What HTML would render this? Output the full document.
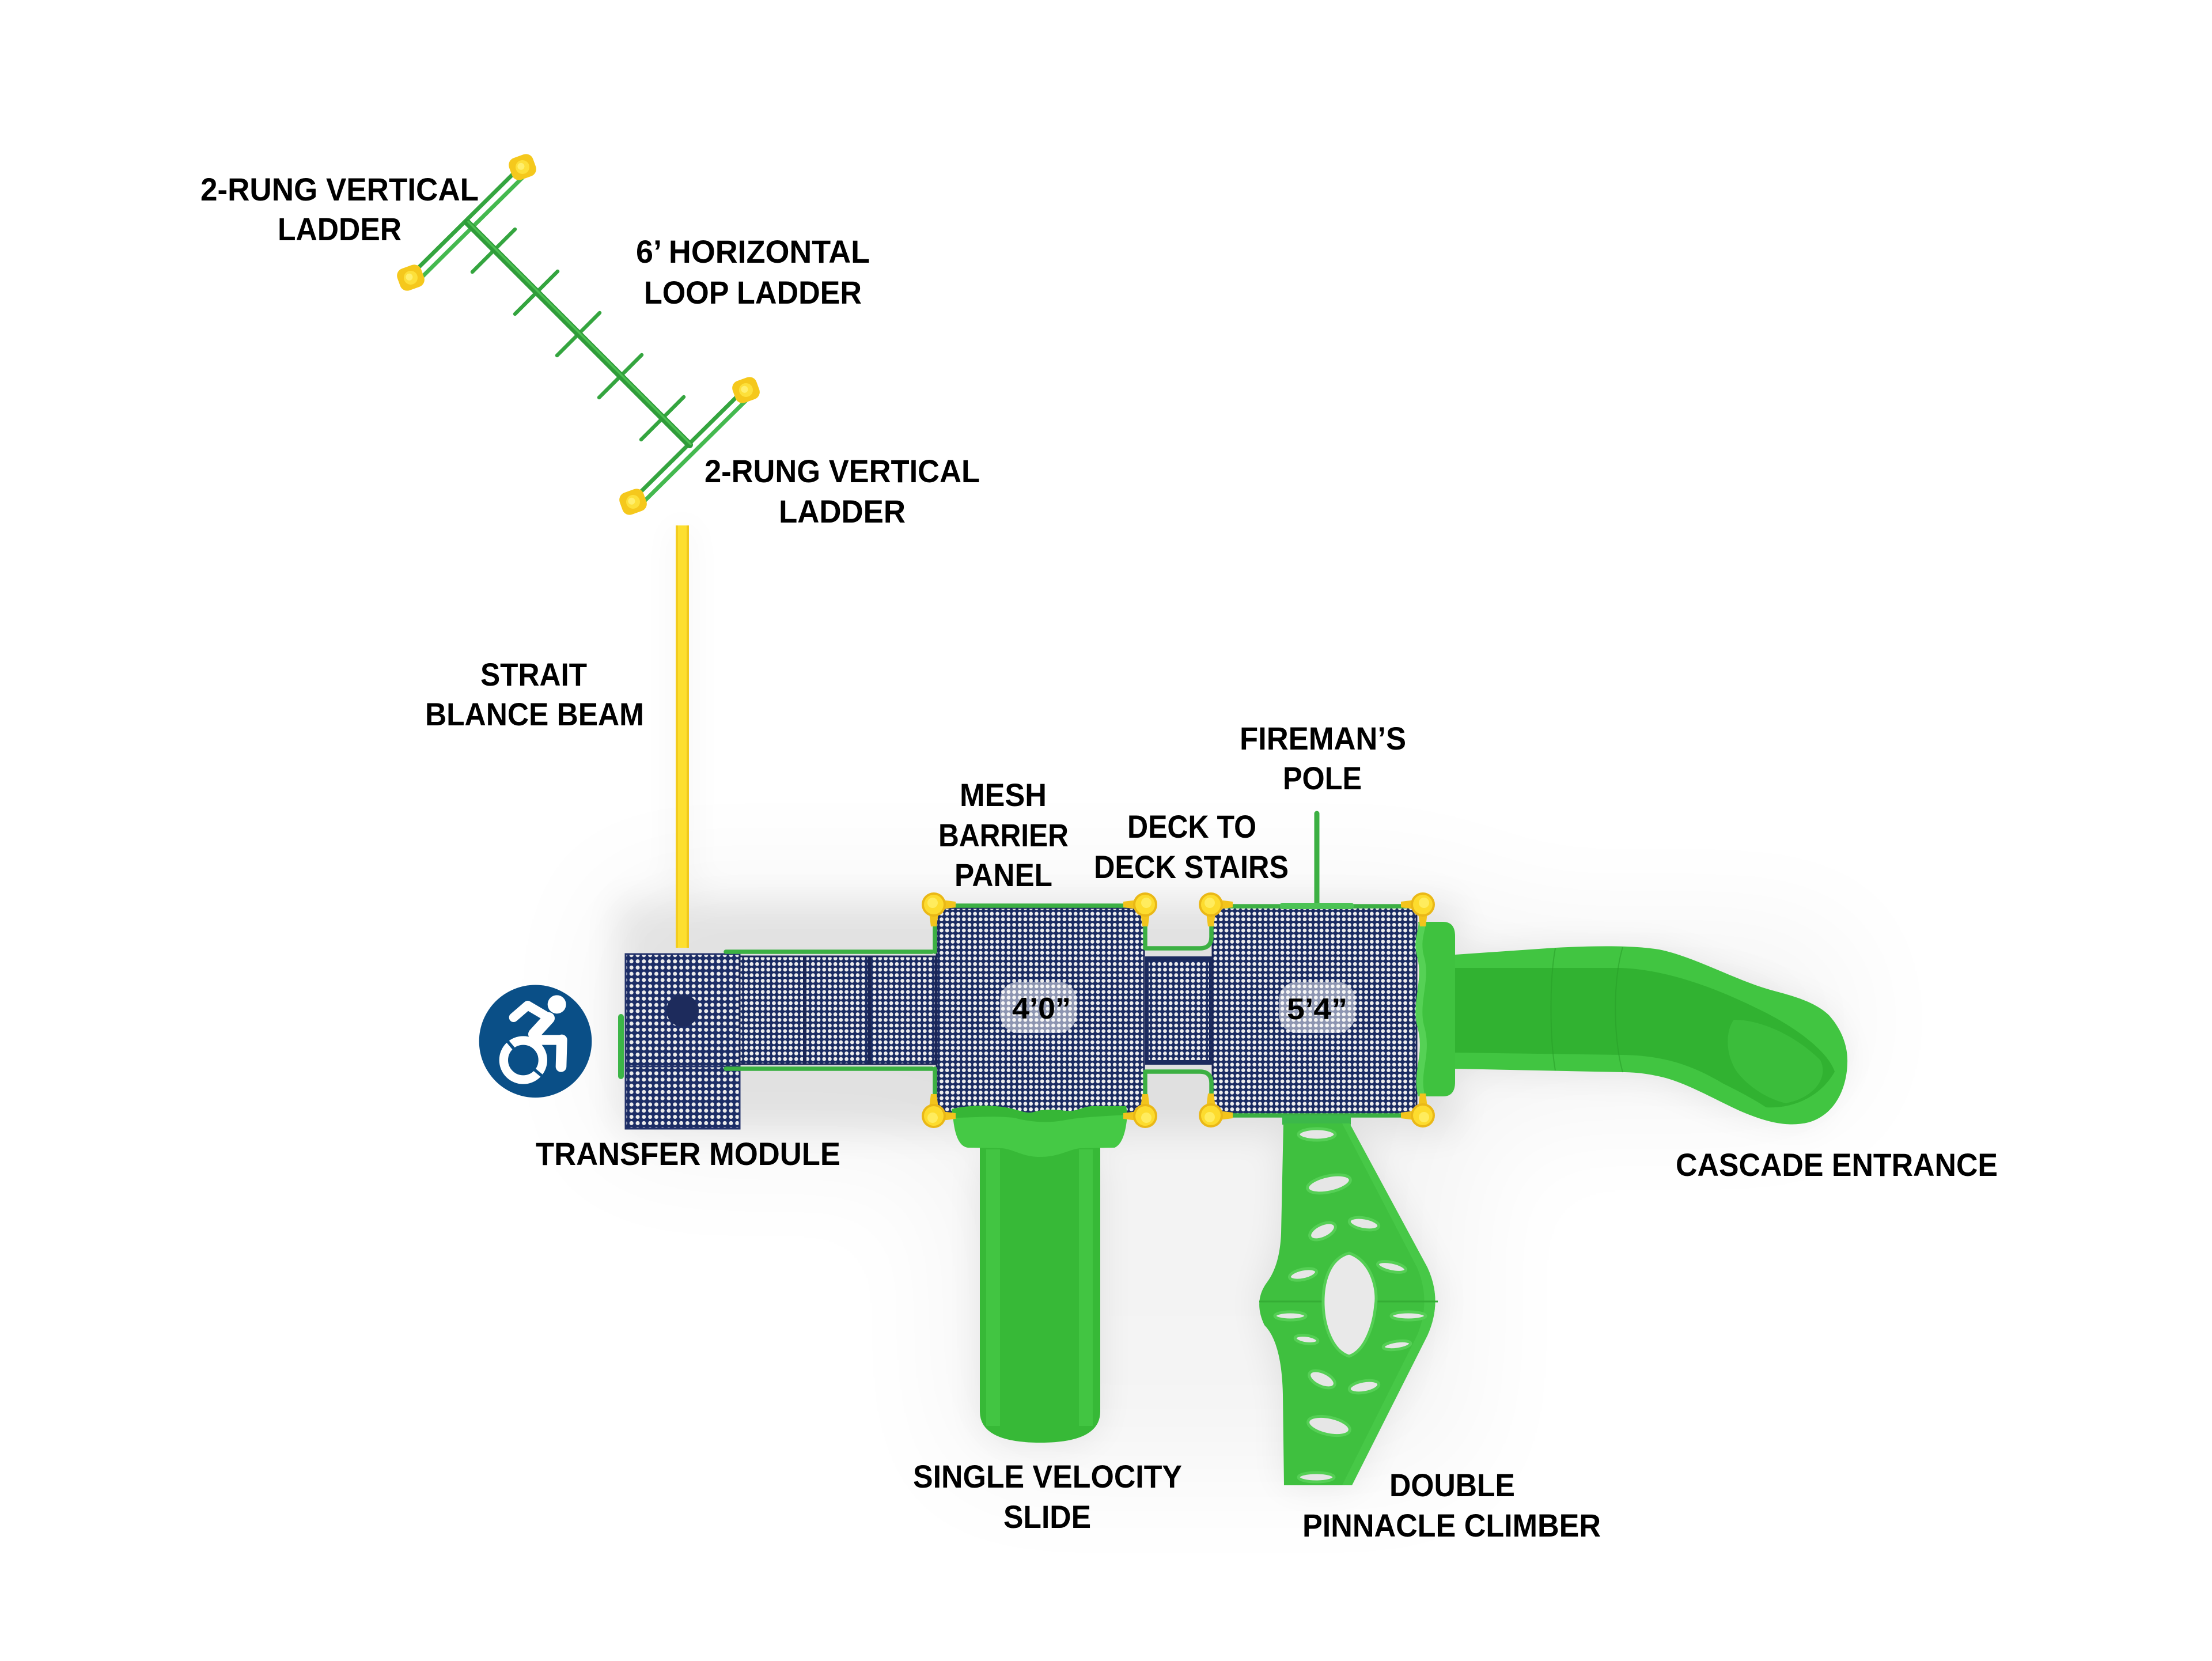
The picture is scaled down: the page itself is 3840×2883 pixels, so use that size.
<!DOCTYPE html>
<html><head><meta charset="utf-8"><style>html,body{margin:0;padding:0;background:#fff}svg{display:block}</style></head>
<body>
<svg width="3840" height="2883" viewBox="0 0 3840 2883" xmlns="http://www.w3.org/2000/svg">
<defs>
  <pattern id="mesh" width="9.7" height="9.7" patternUnits="userSpaceOnUse">
    <rect width="9.7" height="9.7" fill="#1a2b62"/>
    <circle cx="4.85" cy="4.85" r="3.35" fill="#eeeeee"/>
  </pattern>
  <pattern id="mesh2" width="10.8" height="10.8" patternUnits="userSpaceOnUse">
    <rect width="10.8" height="10.8" fill="#1c2d66"/>
    <circle cx="5.4" cy="5.4" r="3.5" fill="#ececec"/>
  </pattern>
  <filter id="sh" x="-30%" y="-30%" width="160%" height="160%"><feGaussianBlur stdDeviation="30"/></filter>
  <filter id="sh2" x="-50%" y="-50%" width="200%" height="200%"><feGaussianBlur stdDeviation="110"/></filter>
  <g id="post">
    <path d="M14,-8 L38,-5 L38,5 L14,8 Z" fill="#f2c41c"/>
    <path d="M-8,14 L-5,38 L5,38 L8,14 Z" fill="#f2c41c"/>
    <circle r="21" fill="#eab817"/>
    <circle r="17" fill="#fddc2e"/>
    <circle cx="-2" cy="-3" r="9" fill="#fff06a" opacity="0.8"/>
  </g>
  <g id="cap">
    <rect x="-22" y="-20" width="44" height="40" rx="13" fill="#f5c81c"/>
    <circle r="12" fill="#fde03a"/>
    <circle cx="-2" cy="-2" r="6" fill="#fff27a" opacity="0.8"/>
  </g>
</defs>

<rect width="3840" height="2883" fill="#ffffff"/>

<!-- soft shadows -->
<g opacity="0.045" filter="url(#sh2)">
  <rect x="1050" y="1540" width="1500" height="460" fill="#000"/>
  <rect x="1660" y="1950" width="880" height="600" fill="#000"/>
  <rect x="2500" y="1620" width="700" height="300" fill="#000"/>
</g>
<g opacity="0.08" filter="url(#sh)">
  <rect x="1070" y="1565" width="1460" height="400" fill="#000"/>
  <path d="M2526,1657 L2700,1645 L2880,1648 L3073,1718 L3175,1762 L3207,1845 L3140,1948 L3020,1928 L2874,1867 L2526,1855 Z" fill="#000"/>
  <rect x="1699" y="1990" width="212" height="515" rx="60" fill="#000"/>
  <path d="M2228,1950 L2343,1950 L2478,2200 L2502,2260 L2478,2318 L2347,2578 L2229,2578 L2227,2420 L2185,2260 L2224,2140 Z" fill="#000"/>
  <rect x="1170" y="912" width="29" height="735" fill="#000" opacity="0.6"/>
</g>

<!-- balance beam -->
<rect x="1173" y="912" width="23" height="733" fill="#fddf2f"/>
<rect x="1173" y="912" width="4" height="733" fill="#f3cc1e"/>
<rect x="1192" y="912" width="4" height="733" fill="#f0c81c"/>

<!-- ladders -->
<g stroke-linecap="round" fill="none">
  <line x1="904.9" y1="287.9" x2="710.9" y2="479.9" stroke="#34a53f" stroke-width="7"/>
  <line x1="916.1" y1="299.2" x2="722.1" y2="491.2" stroke="#44b94f" stroke-width="7"/>
  <line x1="1292.9" y1="674.9" x2="1096.9" y2="868.9" stroke="#34a53f" stroke-width="7"/>
  <line x1="1304.1" y1="686.2" x2="1108.1" y2="880.2" stroke="#44b94f" stroke-width="7"/>
  <g stroke="#34a53f" stroke-width="6.5">
    <line x1="894" y1="398" x2="820" y2="472"/>
    <line x1="968" y1="471" x2="894" y2="545"/>
    <line x1="1041" y1="543" x2="967" y2="617"/>
    <line x1="1114" y1="616" x2="1040" y2="690"/>
    <line x1="1187" y1="689" x2="1113" y2="763"/>
  </g>
  <line x1="811" y1="386" x2="1197" y2="772" stroke="#2f9c39" stroke-width="12"/>
  <line x1="813" y1="385" x2="1199" y2="771" stroke="#4cbf52" stroke-width="3.5"/>
</g>
<use href="#cap" transform="translate(907,290) rotate(-20)"/>
<use href="#cap" transform="translate(713,482) rotate(-20)"/>
<use href="#cap" transform="translate(1295,677) rotate(-20)"/>
<use href="#cap" transform="translate(1099,871) rotate(-20)"/>

<!-- wheelchair icon -->
<circle cx="929.5" cy="1807.3" r="97.8" fill="#0a4f87"/>
<g transform="translate(820,1690) scale(0.33333)" fill="none" stroke="#fff" stroke-linecap="round" stroke-linejoin="round">
  <circle cx="440" cy="160" r="48" fill="#fff" stroke="none"/>
  <path d="M215,228 L288,165 L395,228" stroke-width="48"/>
  <path d="M398,232 L322,315" stroke-width="62"/>
  <path d="M300,345 L468,345" stroke-width="52" stroke-linecap="butt"/>
  <path d="M466,345 L462,484" stroke-width="56"/>
  <circle cx="265" cy="450" r="102" stroke-width="46"/>
  <line x1="220" y1="396" x2="178" y2="346" stroke="#0a4f87" stroke-width="16" stroke-linecap="butt"/>
  <line x1="320" y1="497" x2="368" y2="537" stroke="#0a4f87" stroke-width="16" stroke-linecap="butt"/>
</g>

<!-- transfer module -->
<rect x="1073" y="1760" width="10" height="113" rx="5" fill="#3cb547"/>
<rect x="1086" y="1656" width="198" height="195" fill="url(#mesh2)" stroke="#22316a" stroke-width="3"/>
<rect x="1086" y="1851" width="198" height="108" fill="url(#mesh2)" stroke="#22316a" stroke-width="3"/>
<circle cx="1185" cy="1754" r="28" fill="#1d2b5c"/>

<!-- bridge -->
<rect x="1284" y="1660" width="340" height="187" fill="url(#mesh)" stroke="#1b2758" stroke-width="3"/>
<line x1="1397" y1="1660" x2="1397" y2="1847" stroke="#1a2656" stroke-width="6"/>
<line x1="1509" y1="1660" x2="1509" y2="1847" stroke="#1a2656" stroke-width="6"/>

<!-- stairs -->
<rect x="1988" y="1660" width="117" height="188" fill="#1c2b5e"/>
<rect x="1994" y="1668" width="105" height="172" fill="url(#mesh)"/>

<!-- decks -->
<rect x="1626" y="1576" width="360" height="357" rx="10" fill="url(#mesh)" stroke="#1a2658" stroke-width="3"/>
<rect x="2105" y="1574" width="354" height="362" rx="10" fill="url(#mesh)" stroke="#1a2658" stroke-width="3"/>

<!-- green rails -->
<g stroke="#3cb043" stroke-width="7.5" fill="none" stroke-linecap="round" stroke-linejoin="round">
  <line x1="1260" y1="1652" x2="1618" y2="1652"/>
  <line x1="1260" y1="1855" x2="1618" y2="1855"/>
  <line x1="1640" y1="1572" x2="1968" y2="1572"/>
  <line x1="1623" y1="1592" x2="1623" y2="1652"/>
  <line x1="1623" y1="1855" x2="1623" y2="1916"/>
  <path d="M1988,1592 L1988,1646 L2083,1646 Q2103,1646 2103,1626 L2103,1592"/>
  <path d="M1988,1918 L1988,1860 L2083,1860 Q2103,1860 2103,1880 L2103,1918"/>
  <line x1="2122" y1="1573" x2="2450" y2="1573"/>
  <line x1="2122" y1="1936" x2="2450" y2="1936"/>
  <line x1="2286" y1="1412" x2="2286" y2="1572" stroke-width="9"/>
</g>
<rect x="2222" y="1567" width="128" height="11" rx="4" fill="#4cc355"/>

<!-- cascade slide -->
<path d="M2526,1657 L2700,1645 C2760,1642 2830,1640 2880,1648 C2940,1660 3010,1700 3073,1718 C3110,1728 3150,1738 3175,1762 C3200,1790 3208,1820 3207,1845 C3206,1890 3185,1935 3140,1948 C3100,1958 3060,1945 3020,1928 C2970,1905 2920,1875 2874,1867 C2850,1862 2830,1861 2817,1861 L2526,1855 Z" fill="#41c541"/>
<path d="M2526,1680 L2813,1680 C2900,1683 2990,1720 3060,1755 C3130,1790 3175,1830 3185,1860 C3160,1905 3110,1925 3066,1922 C3040,1905 3010,1890 2990,1880 C2940,1850 2890,1832 2817,1831 L2526,1827 Z" fill="#31b231"/>
<path d="M3010,1770 C3060,1770 3120,1800 3160,1840 C3175,1870 3150,1905 3100,1915 C3060,1905 3030,1880 3015,1860 C2995,1830 2995,1790 3010,1770 Z" fill="#3fbf3f" opacity="0.8"/>
<g stroke="#2aa02a" stroke-width="2" fill="none" opacity="0.6">
  <path d="M2700,1646 C2690,1700 2690,1800 2700,1858"/>
  <path d="M2817,1644 C2800,1700 2800,1800 2817,1861"/>
</g>
<!-- cascade hood -->
<path d="M2462,1600 L2505,1600 Q2526,1600 2526,1625 L2526,1878 Q2526,1903 2505,1903 L2462,1903 C2450,1860 2475,1830 2460,1780 C2450,1740 2472,1700 2460,1660 C2452,1630 2465,1612 2462,1600 Z" fill="#3fc23f"/>
<path d="M2462,1600 C2465,1612 2452,1630 2460,1660 C2472,1700 2450,1740 2460,1780 C2475,1830 2450,1860 2462,1903 L2474,1903 C2462,1860 2487,1830 2472,1780 C2462,1740 2484,1700 2472,1660 C2464,1630 2477,1612 2474,1600 Z" fill="#55d155"/>

<!-- single velocity slide -->
<path d="M1701,1990 L1701,2450 Q1701,2504 1806,2504 Q1910,2504 1910,2450 L1910,1990 Z" fill="#37b937"/>
<rect x="1712" y="1995" width="24" height="480" fill="#45c845" opacity="0.8"/>
<rect x="1873" y="1995" width="24" height="480" fill="#45c845" opacity="0.8"/>
<path d="M1652,1925 C1680,1918 1720,1918 1745,1922 C1770,1926 1780,1934 1795,1930 C1815,1924 1830,1926 1850,1928 C1870,1930 1875,1922 1895,1920 L1955,1920 L1957,1935 C1955,1960 1950,1985 1935,1992 L1875,1993 C1855,1995 1840,2008 1805,2008 C1775,2008 1760,1995 1740,1993 L1680,1992 C1665,1990 1658,1970 1655,1945 Z" fill="#45c945"/>
<path d="M1652,1925 C1680,1918 1720,1918 1745,1922 C1770,1926 1780,1934 1795,1930 C1815,1924 1830,1926 1850,1928 C1870,1930 1875,1922 1895,1920 L1955,1920 L1957,1935 C1900,1938 1870,1940 1850,1944 C1820,1950 1790,1948 1760,1940 C1720,1936 1690,1940 1655,1940 Z" fill="#36b636"/>

<!-- climber -->
<rect x="2226" y="1936" width="119" height="16" fill="#3cb84a"/>
<path d="M2228,1950 L2343,1950 L2478,2200 Q2505,2258 2478,2318 L2347,2578 L2229,2578 L2227,2420 Q2225,2330 2195,2300 Q2175,2258 2200,2225 Q2222,2195 2224,2140 L2228,1950 Z" fill="#3fc03f"/>
<path d="M2343,1950 L2478,2200 Q2505,2258 2478,2318 L2347,2578 L2330,2578 L2460,2318 Q2485,2258 2460,2200 L2330,1950 Z" fill="#4ccc4c" opacity="0.7"/>
<line x1="2186" y1="2259" x2="2496" y2="2259" stroke="#35ad35" stroke-width="3"/>
<g fill="#e6e6e6" stroke="#55cf55" stroke-width="5">
  <ellipse cx="2286" cy="1969" rx="32" ry="10"/>
  <ellipse cx="2307" cy="2055" rx="38" ry="14" transform="rotate(-12 2307 2055)"/>
  <ellipse cx="2296" cy="2137" rx="24" ry="12" transform="rotate(-25 2296 2137)"/>
  <ellipse cx="2368" cy="2124" rx="26" ry="10" transform="rotate(10 2368 2124)"/>
  <ellipse cx="2262" cy="2212" rx="24" ry="9" transform="rotate(-12 2262 2212)"/>
  <ellipse cx="2416" cy="2199" rx="25" ry="8" transform="rotate(12 2416 2199)"/>
  <ellipse cx="2240" cy="2284" rx="27" ry="7"/>
  <ellipse cx="2445" cy="2284" rx="30" ry="7"/>
  <ellipse cx="2268" cy="2325" rx="20" ry="7" transform="rotate(8 2268 2325)"/>
  <ellipse cx="2425" cy="2335" rx="24" ry="7" transform="rotate(-8 2425 2335)"/>
  <ellipse cx="2295" cy="2394" rx="24" ry="12" transform="rotate(25 2295 2394)"/>
  <ellipse cx="2368" cy="2407" rx="26" ry="10" transform="rotate(-10 2368 2407)"/>
  <ellipse cx="2307" cy="2475" rx="37" ry="15" transform="rotate(12 2307 2475)"/>
  <ellipse cx="2285" cy="2564" rx="31" ry="8"/>
  <path d="M2342,2175 C2385,2190 2392,2245 2388,2265 C2385,2300 2370,2345 2342,2354 C2312,2345 2298,2300 2297,2265 C2296,2230 2305,2185 2342,2175 Z" fill="#e9e9e9"/>
</g>

<!-- posts -->
<use href="#post" transform="translate(1621,1570)"/>
<use href="#post" transform="translate(1988,1570) scale(-1,1)"/>
<use href="#post" transform="translate(1621,1937) scale(1,-1)"/>
<use href="#post" transform="translate(1988,1937) scale(-1,-1)"/>
<use href="#post" transform="translate(2102,1570)"/>
<use href="#post" transform="translate(2470,1570) scale(-1,1)"/>
<use href="#post" transform="translate(2102,1936) scale(1,-1)"/>
<use href="#post" transform="translate(2470,1936) scale(-1,-1)"/>

<!-- height labels -->
<rect x="1736" y="1704" width="133" height="89" rx="32" fill="#ffffff" opacity="0.5"/>
<rect x="2220" y="1704" width="133" height="89" rx="32" fill="#ffffff" opacity="0.5"/>

<g font-family="'Liberation Sans', Arial, sans-serif" font-weight="700" font-size="56" fill="#000">
  <text x="1757" y="1768" font-size="52" textLength="102" lengthAdjust="spacingAndGlyphs">4’0”</text>
  <text x="2234" y="1769" font-size="52" textLength="105" lengthAdjust="spacingAndGlyphs">5’4”</text>
  <text x="348" y="348" textLength="483" lengthAdjust="spacingAndGlyphs">2-RUNG VERTICAL</text>
  <text x="482" y="417" textLength="215" lengthAdjust="spacingAndGlyphs">LADDER</text>
  <text x="1104" y="456" textLength="406" lengthAdjust="spacingAndGlyphs">6’ HORIZONTAL</text>
  <text x="1118" y="527" textLength="378" lengthAdjust="spacingAndGlyphs">LOOP LADDER</text>
  <text x="1223" y="837" textLength="478" lengthAdjust="spacingAndGlyphs">2-RUNG VERTICAL</text>
  <text x="1352" y="907" textLength="220" lengthAdjust="spacingAndGlyphs">LADDER</text>
  <text x="834" y="1190" textLength="185" lengthAdjust="spacingAndGlyphs">STRAIT</text>
  <text x="738" y="1259" textLength="380" lengthAdjust="spacingAndGlyphs">BLANCE BEAM</text>
  <text x="930" y="2022" textLength="529" lengthAdjust="spacingAndGlyphs">TRANSFER MODULE</text>
  <text x="1666" y="1399" textLength="151" lengthAdjust="spacingAndGlyphs">MESH</text>
  <text x="1629" y="1469" textLength="226" lengthAdjust="spacingAndGlyphs">BARRIER</text>
  <text x="1657" y="1538" textLength="170" lengthAdjust="spacingAndGlyphs">PANEL</text>
  <text x="1957" y="1454" textLength="224" lengthAdjust="spacingAndGlyphs">DECK TO</text>
  <text x="1899" y="1524" textLength="338" lengthAdjust="spacingAndGlyphs">DECK STAIRS</text>
  <text x="2152" y="1301" textLength="289" lengthAdjust="spacingAndGlyphs">FIREMAN’S</text>
  <text x="2227" y="1370" textLength="137" lengthAdjust="spacingAndGlyphs">POLE</text>
  <text x="2909" y="2041" textLength="559" lengthAdjust="spacingAndGlyphs">CASCADE ENTRANCE</text>
  <text x="1585" y="2582" textLength="467" lengthAdjust="spacingAndGlyphs">SINGLE VELOCITY</text>
  <text x="1742" y="2652" textLength="152" lengthAdjust="spacingAndGlyphs">SLIDE</text>
  <text x="2412" y="2597" textLength="218" lengthAdjust="spacingAndGlyphs">DOUBLE</text>
  <text x="2261" y="2667" textLength="518" lengthAdjust="spacingAndGlyphs">PINNACLE CLIMBER</text>
</g>
</svg>
</body></html>
